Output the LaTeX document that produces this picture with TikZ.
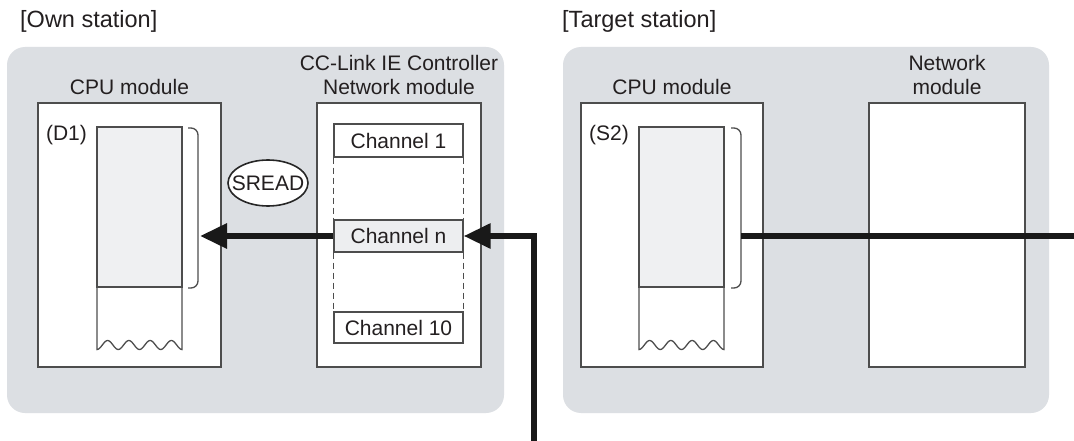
\documentclass[tikz,border=0pt]{standalone}
\usepackage{fontspec}
\setmainfont{Liberation Sans}
\usetikzlibrary{arrows.meta,shapes.geometric}
\definecolor{panelgrey}{HTML}{DCDFE3}
\definecolor{memgrey}{HTML}{EFF0F2}
\definecolor{chgrey}{HTML}{EDEEF0}
\definecolor{edgegrey}{HTML}{4D4D4D}
\definecolor{txt}{HTML}{231F20}
\begin{document}
\begin{tikzpicture}[x=1pt,y=-1pt,
  every node/.style={font=\fontsize{21pt}{24pt}\selectfont, text=txt},
  panel/.style={fill=panelgrey, rounded corners=18pt, inner sep=0pt},
  modbox/.style={draw=edgegrey, fill=white, line width=1.4pt, inner sep=0pt},
  chbox/.style={draw=edgegrey, fill=white, line width=1.3pt, inner sep=0pt, minimum width=129pt},
  dashline/.style={draw=edgegrey, line width=1.2pt, dash pattern=on 6pt off 4pt},
  thinedge/.style={draw=edgegrey, line width=1.3pt},
  heavy/.style={line width=6pt, draw=black!90},
  tiphead/.style={-{Triangle[length=27pt,width=24pt]}},
  captext/.style={anchor=base, inner sep=0pt},
  titletext/.style={anchor=base west, inner sep=0pt, font=\fontsize{23.5pt}{27pt}\selectfont},
]
\useasboundingbox (0,0) rectangle (1074,441);
\fill[white] (0,0) rectangle (1074,441);

% station panels
\node[panel, minimum width=497pt, minimum height=366pt] (ownp) at (255.5,230) {};
\node[panel, minimum width=486pt, minimum height=366pt] (tgtp) at (806,230) {};

% titles
\node[titletext] (owntitle) at (20,28) {[Own station]};
\node[titletext] (tgttitle) at (562,28) {[Target station]};

% modules
\node[modbox, minimum width=183pt, minimum height=264pt] (cpuA) at (129.5,235) {};
\node[modbox, minimum width=164pt, minimum height=264pt] (netA) at (399,235) {};
\node[modbox, minimum width=182pt, minimum height=264pt] (cpuB) at (672,235) {};
\node[modbox, minimum width=156pt, minimum height=264pt] (netB) at (947,235) {};

% captions
\node[captext] (cpuAcap) at (129.5,95) {CPU module};
\node[captext] (netAcap1) at (399,71) {CC-Link IE Controller};
\node[captext] (netAcap2) at (399,95) {Network module};
\node[captext] (cpuBcap) at (672,95) {CPU module};
\node[captext] (netBcap1) at (947,71) {Network};
\node[captext] (netBcap2) at (947,95) {module};

% device memory columns
\foreach \mx in {97,639} {
  \begin{scope}[shift={(\mx,127)}]
    \fill[memgrey] (0,0) rectangle (85,160);
    \draw[thinedge] (0,0) rectangle (85,160);
    \draw[thinedge] (0,160) -- (0,222.5) -- plot[domain=0:85, samples=81, smooth] (\x,{218+4.5*cos(\x*16.9412)}) -- (85,160);
  \end{scope}
}

% brackets
\draw[thinedge, rounded corners=7pt] (188,128) -- (198,128) -- (198,288) -- (188,288);
\draw[thinedge, rounded corners=7pt] (731,128) -- (741,128) -- (741,288) -- (731,288);

\node[captext] (d1) at (66.5,141) {(D1)};
\node[captext] (s2) at (609,141) {(S2)};

% channels
\node[chbox, minimum height=33pt] (ch1) at (398.5,140.5) {Channel 1};
\node[chbox, minimum height=32pt, fill=chgrey] (chn) at (398.5,236) {Channel n};
\node[chbox, minimum height=31pt] (ch10) at (398.5,327.5) {Channel 10};
\draw[dashline] (ch1.south west) -- (chn.north west);
\draw[dashline] (chn.south west) -- (ch10.north west);
\draw[dashline] (ch1.south east) -- (chn.north east);
\draw[dashline] (chn.south east) -- (ch10.north east);

% instruction
\node[draw=black!85, fill=white, ellipse, line width=1.6pt, minimum width=80pt, minimum height=46pt, inner sep=0pt, label={[inner sep=0pt]center:SREAD}] (sread) at (268,183) {};

% connectors
\coordinate (brA) at (200,236);
\coordinate (brB) at (741,236);
\coordinate (rEdge) at (1074,236);
\coordinate (bottom) at (534,441);
\draw[heavy, tiphead] (chn.west) -- (brA);
\draw[heavy, tiphead, line join=miter] (bottom) |- (chn.east);
\draw[heavy] (brB) -- (rEdge);
\end{tikzpicture}
\end{document}
